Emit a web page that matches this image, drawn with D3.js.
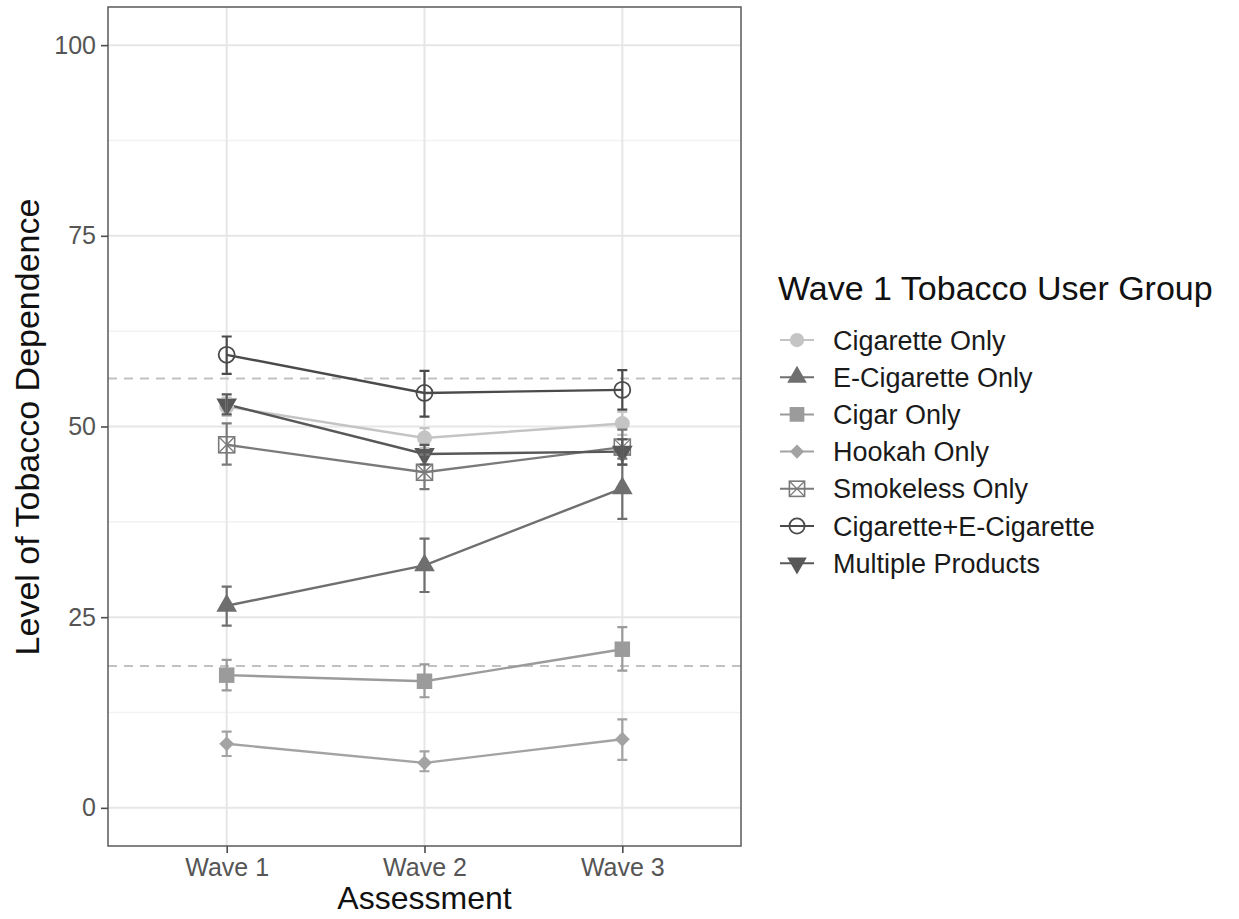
<!DOCTYPE html>
<html>
<head>
<meta charset="utf-8">
<script src="https://cdn.jsdelivr.net/npm/d3@7"></script>
<style>
  body { margin: 0; background: #fff; }
  svg { font-family: "Liberation Sans", Arial, Helvetica, sans-serif; }
</style>
</head>
<body>
<div id="chart"></div>
<script>
// data
const waves = ['Wave 1', 'Wave 2', 'Wave 3'];
const groups = ['Cigarette Only', 'E-Cigarette Only', 'Cigar Only', 'Hookah Only',
  'Smokeless Only', 'Cigarette+E-Cigarette', 'Multiple Products'];

const cigOnly   = [52.6, 48.5, 50.4];
const ecigOnly  = [26.5, 31.8, 41.9];
const cigarOnly = [17.4, 16.6, 20.8];
const hookah    = [8.4, 5.9, 9.0];
const smokeless = [47.6, 44.0, 47.3];
const cigEcig   = [59.4, 54.4, 54.8];
const multiple  = [52.9, 46.4, 46.7];

const cigOnlyLo   = [51.4, 47.2, 48.9], cigOnlyHi   = [53.8, 49.8, 51.9];
const ecigOnlyLo  = [23.9, 28.3, 37.9], ecigOnlyHi  = [29.0, 35.3, 45.8];
const cigarOnlyLo = [15.4, 14.5, 18.0], cigarOnlyHi = [19.4, 18.8, 23.7];
const hookahLo    = [6.8, 4.8, 6.3],    hookahHi    = [10.0, 7.4, 11.6];
const smokelessLo = [45.0, 41.8, 45.0], smokelessHi = [50.4, 46.3, 49.6];
const cigEcigLo   = [56.9, 51.3, 52.2], cigEcigHi   = [61.8, 57.3, 57.4];
const multipleLo  = [51.6, 45.0, 45.0], multipleHi  = [54.2, 47.6, 48.3];

const refLines = [56.3, 18.6];
const yTicks = [0, 25, 50, 75, 100];
const yMinor = [12.5, 37.5, 62.5, 87.5];

const means = [cigOnly, ecigOnly, cigarOnly, hookah, smokeless, cigEcig, multiple];
const lows  = [cigOnlyLo, ecigOnlyLo, cigarOnlyLo, hookahLo, smokelessLo, cigEcigLo, multipleLo];
const highs = [cigOnlyHi, ecigOnlyHi, cigarOnlyHi, hookahHi, smokelessHi, cigEcigHi, multipleHi];

// look of each group
const colors = ['#c4c4c4', '#6f6f6f', '#9b9b9b', '#a3a3a3', '#7a7a7a', '#4a4a4a', '#585858'];
const shapes = ['circle', 'triangle', 'square', 'diamond', 'boxx', 'ocircle', 'dtriangle'];

const W = 1239, H = 919;
const margin = {top: 7, right: 498, bottom: 73, left: 108};
const width = W - margin.left - margin.right;
const height = H - margin.top - margin.bottom;

const svg = d3.select('#chart').append('svg')
  .attr('width', W)
  .attr('height', H);

const g = svg.append('g')
  .attr('transform', 'translate(' + margin.left + ',' + margin.top + ')');

const x = d3.scalePoint().domain(waves).range([0, width]).padding(0.6);
const y = d3.scaleLinear().domain([-5, 105]).range([height, 0]);

// grid
g.selectAll('.minor').data(yMinor).enter().append('line')
  .attr('x1', 0).attr('x2', width)
  .attr('y1', d => y(d)).attr('y2', d => y(d))
  .attr('stroke', '#f2f2f2').attr('stroke-width', 1.5);
g.selectAll('.major').data(yTicks).enter().append('line')
  .attr('x1', 0).attr('x2', width)
  .attr('y1', d => y(d)).attr('y2', d => y(d))
  .attr('stroke', '#e6e6e6').attr('stroke-width', 2);
g.selectAll('.vgrid').data(waves).enter().append('line')
  .attr('x1', d => x(d)).attr('x2', d => x(d))
  .attr('y1', 0).attr('y2', height)
  .attr('stroke', '#e6e6e6').attr('stroke-width', 2);

// dashed reference lines
g.selectAll('.ref').data(refLines).enter().append('line')
  .attr('x1', 0).attr('x2', width)
  .attr('y1', d => y(d)).attr('y2', d => y(d))
  .attr('stroke', '#c2c2c2').attr('stroke-width', 2)
  .attr('stroke-dasharray', '9,7');

const line = d3.line()
  .x((d, i) => x(waves[i]))
  .y(d => y(d));

// connecting lines
means.forEach((m, k) => {
  g.append('path')
    .attr('d', line(m))
    .attr('fill', 'none')
    .attr('stroke', colors[k])
    .attr('stroke-width', 2.4);
});

function drawMarker(sel, shape, color, scale) {
  const s = scale || 1;
  if (shape === 'circle') {
    sel.append('circle').attr('r', 7.5 * s).attr('fill', color);
  } else if (shape === 'ocircle') {
    sel.append('circle').attr('r', 8 * s).attr('fill', 'none')
      .attr('stroke', color).attr('stroke-width', 1.8);
  } else if (shape === 'triangle') {
    sel.append('path').attr('d', d3.symbol(d3.symbolTriangle, 185 * s * s)).attr('fill', color);
  } else if (shape === 'dtriangle') {
    sel.append('path').attr('d', d3.symbol(d3.symbolTriangle, 185 * s * s))
      .attr('transform', 'rotate(180)').attr('fill', color);
  } else if (shape === 'square') {
    sel.append('path').attr('d', d3.symbol(d3.symbolSquare, 240 * s * s)).attr('fill', color);
  } else if (shape === 'diamond') {
    sel.append('path').attr('d', d3.symbol(d3.symbolSquare, 110 * s * s))
      .attr('transform', 'rotate(45)').attr('fill', color);
  } else if (shape === 'boxx') {
    const h = 8 * s;
    sel.append('rect').attr('x', -h).attr('y', -h).attr('width', 2 * h).attr('height', 2 * h)
      .attr('fill', 'none').attr('stroke', color).attr('stroke-width', 1.6);
    sel.append('path').attr('d', `M${-h},${-h}L${h},${h}M${-h},${h}L${h},${-h}`)
      .attr('stroke', color).attr('stroke-width', 1.3);
  }
}

// points
means.forEach((m, k) => {
  m.forEach((v, i) => {
    const p = g.append('g').attr('transform', `translate(${x(waves[i])},${y(v)})`);
    drawMarker(p, shapes[k], colors[k]);
  });
});

// error bars
const cap = 5;
means.forEach((m, k) => {
  m.forEach((v, i) => {
    const cx = x(waves[i]);
    const lo = y(lows[k][i]), hi = y(highs[k][i]);
    g.append('path')
      .attr('d', `M${cx - cap},${hi}H${cx + cap}M${cx},${hi}V${lo}M${cx - cap},${lo}H${cx + cap}`)
      .attr('fill', 'none')
      .attr('stroke', colors[k])
      .attr('stroke-width', 2.2);
  });
});

// panel border
g.append('rect')
  .attr('width', width).attr('height', height)
  .attr('fill', 'none').attr('stroke', '#5a5a5a').attr('stroke-width', 1.5);

// axes
const yAxis = g.append('g').call(d3.axisLeft(y).tickValues(yTicks).tickSize(7).tickPadding(5));
const xAxis = g.append('g').attr('transform', 'translate(0,' + height + ')')
  .call(d3.axisBottom(x).tickSize(7).tickPadding(5));
[yAxis, xAxis].forEach(a => {
  a.select('.domain').remove();
  a.selectAll('.tick line').attr('stroke', '#4d4d4d').attr('stroke-width', 1.6);
  a.selectAll('.tick text').attr('fill', '#555').style('font-size', '25px')
    .style('font-family', '"Liberation Sans", Arial, sans-serif');
});

// axis titles
svg.append('text')
  .attr('transform', 'translate(39,427) rotate(-90)')
  .attr('text-anchor', 'middle')
  .style('font-size', '34px')
  .attr('fill', '#111')
  .text('Level of Tobacco Dependence');

svg.append('text')
  .attr('x', margin.left + width / 2)
  .attr('y', 909)
  .attr('text-anchor', 'middle')
  .style('font-size', '32px')
  .attr('fill', '#111')
  .text('Assessment');

// legend
const legend = svg.append('g').attr('transform', 'translate(778,0)');
legend.append('text')
  .attr('x', 0).attr('y', 300)
  .style('font-size', '34px')
  .attr('fill', '#111')
  .text('Wave 1 Tobacco User Group');

groups.forEach((name, k) => {
  const cy = 340 + k * 37.2;
  const row = legend.append('g').attr('transform', `translate(0,${cy})`);
  row.append('line').attr('x1', 2).attr('x2', 36).attr('y1', 0).attr('y2', 0)
    .attr('stroke', colors[k]).attr('stroke-width', 2);
  const mk = row.append('g').attr('transform', 'translate(19,0)');
  drawMarker(mk, shapes[k], colors[k], 0.95);
  row.append('text')
    .attr('x', 55).attr('y', 9.5)
    .style('font-size', '27px')
    .attr('fill', '#1a1a1a')
    .text(name);
});
</script>
</body>
</html>
